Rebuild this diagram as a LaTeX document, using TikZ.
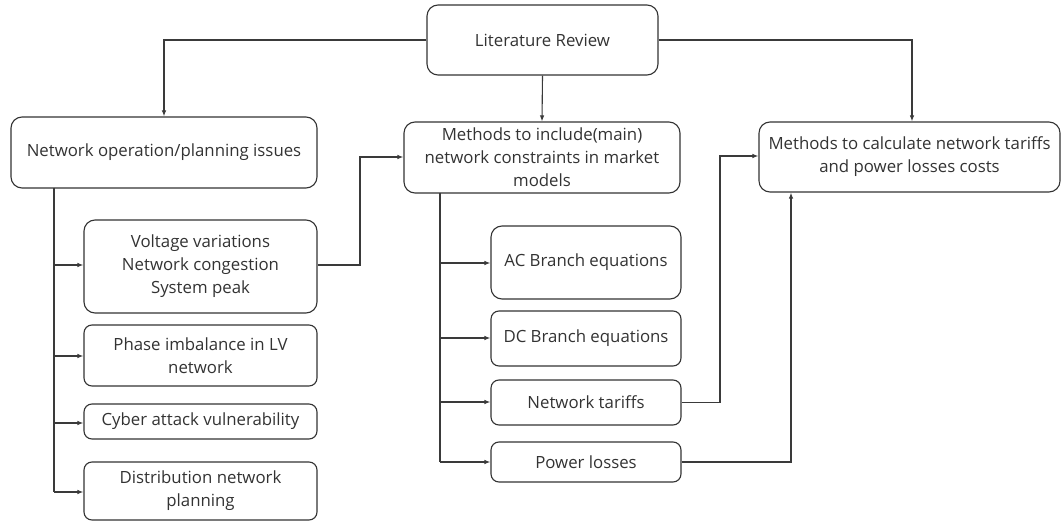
\documentclass[tikz,border=0pt]{standalone}
\usepackage{fontspec}
\setmainfont{Open Sans}
\usetikzlibrary{arrows.meta}
\definecolor{ink}{HTML}{333333}
\definecolor{wire}{HTML}{3A3A3A}
\begin{document}
\begin{tikzpicture}[x=1pt,y=-1pt,
  box/.style={draw=ink, line width=1.1pt, rounded corners=11pt, align=center,
    text=ink, inner sep=0pt, font=\fontsize{16.8}{23}\selectfont},
  sbox/.style={box, rounded corners=8pt},
  link/.style={draw=wire, line width=1.1pt, -{Latex[length=6pt,width=4.5pt]}},
  plain/.style={draw=wire, line width=1.1pt},
  trunk/.style={draw=wire, line width=1.8pt}]
\useasboundingbox[fill=white] (0,0) rectangle (1064,521);

% top level
\node[box, minimum width=231pt, minimum height=70pt] (lr) at (542.5,40) {Literature Review};

% second level
\node[box, minimum width=306pt, minimum height=71pt] (ops) at (164,152.5) {Network operation/planning issues};
\node[box, minimum width=276pt, minimum height=71pt] (inc) at (542,157.5)
  {Methods to include(main)\\network constraints in market\\models};
\node[box, minimum width=301pt, minimum height=70pt] (calc) at (909.5,157)
  {Methods to calculate network tariffs\\and power losses costs};

% operation / planning issues
\node[box, minimum width=233pt, minimum height=93pt] (volt) at (200.5,266.5)
  {Voltage variations\\Network congestion\\System peak};
\node[sbox, minimum width=233pt, minimum height=61pt] (phase) at (200.5,355.5)
  {Phase imbalance in LV\\network};
\node[sbox, minimum width=233pt, minimum height=35pt] (cyber) at (200.5,421.5)
  {Cyber attack vulnerability};
\node[sbox, minimum width=233pt, minimum height=58pt] (dist) at (200.5,491)
  {Distribution network\\planning};

% network constraint methods
\node[box, minimum width=190pt, minimum height=73pt] (ac) at (586,262.5) {AC Branch equations};
\node[sbox, minimum width=190pt, minimum height=55pt] (dc) at (586,338.5) {DC Branch equations};
\node[sbox, minimum width=190pt, minimum height=45pt] (nt) at (586,402.5) {Network tariffs};
\node[sbox, minimum width=190pt, minimum height=40pt] (pl) at (586,462) {Power losses};

% connectors from the top box
\draw[link] (lr.west) -| (ops.north);
\draw[link] (lr.south) -- (inc.north);
\draw[link] (lr.east) -| (calc.north -| 912,0);

% trunk under the operation box
\coordinate (t0) at (54,188);
\coordinate (t1) at (54,492);
\draw[trunk] (t0) -- (t1);
\draw[link] (54,265) -- (volt.west |- 54,265);
\draw[link] (54,356) -- (phase.west |- 54,356);
\draw[link] (54,423) -- (cyber.west |- 54,423);
\draw[link] (t1) -- (dist.west |- t1);

% trunk under the constraint methods box
\coordinate (m0) at (440,193);
\coordinate (m1) at (440,462);
\draw[plain] (m0) -- (m1);
\draw[link] (440,263) -- (ac.west |- 440,263);
\draw[link] (440,338) -- (dc.west |- 440,338);
\draw[link] (440,402) -- (nt.west |- 440,402);
\draw[link] (m1) -- (pl.west);

% cross links
\draw[link] (volt.east |- 0,265) -- (360,265) |- (inc.west |- 0,157);
\draw[link] (nt.east) -- (720,402.5) |- (calc.west |- 0,156);
\draw[link] (pl.east) -| (calc.south -| 791,0);
\end{tikzpicture}
\end{document}
